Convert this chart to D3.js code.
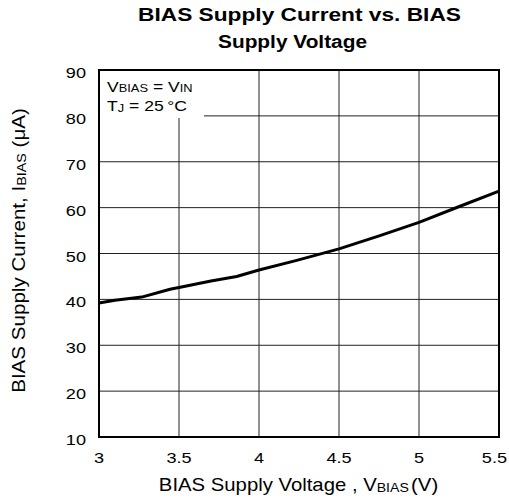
<!DOCTYPE html>
<html>
<head>
<meta charset="utf-8">
<script src="https://cdn.jsdelivr.net/npm/d3@7"></script>
<style>
  body { margin: 0; background: #fff; }
  text { font-family: "Liberation Sans", Arial, sans-serif; fill: #000; }
</style>
</head>
<body>
<div id="chart"></div>
<script>
// curve
let voltage = [3.0, 3.1, 3.267, 3.444, 3.5, 3.7, 3.86, 4.0, 4.236, 4.5, 4.756, 5.0, 5.256, 5.5]
let current = [39.2, 39.8, 40.5, 42.2, 42.6, 44.0, 45.0, 46.4, 48.5, 51.0, 53.9, 56.8, 60.3, 63.6]
let xTicks = [3, 3.5, 4, 4.5, 5, 5.5]
let yTicks = [10, 20, 30, 40, 50, 60, 70, 80, 90]

var W = 509, H = 500
var margin = {left: 99, right: 10, top: 70, bottom: 63}
var sx = 1.17 // the reference type is a bit stretched sideways

var svg = d3.select("#chart").append("svg")
  .attr("width", W)
  .attr("height", H)

var x = d3.scaleLinear().domain([3, 5.5]).range([margin.left, W - margin.right])
var y = d3.scaleLinear().domain([10, 90]).range([H - margin.bottom, margin.top])

// puts a text at (px,py) and stretches it sideways
function placed(px, py, anchor, size, s) {
  return svg.append("g")
    .attr("transform", "translate(" + px + "," + py + ") scale(" + (s || sx) + ",1)")
    .append("text")
    .attr("text-anchor", anchor)
    .style("font-size", size + "px")
}
// stretch a text so it spans a given width
function fit(t, width) {
  var w = t.node().getComputedTextLength()
  var g = d3.select(t.node().parentNode)
  g.attr("transform", g.attr("transform").replace(/scale\([^)]*\)/, "scale(" + (width / w) + ",1)"))
}

// grid
svg.append("g").selectAll("line")
  .data(xTicks)
  .enter().append("line")
  .attr("x1", d => x(d)).attr("x2", d => x(d))
  .attr("y1", y(90)).attr("y2", y(10))
  .attr("stroke", "#222").attr("stroke-width", 1)
svg.append("g").selectAll("line")
  .data(yTicks)
  .enter().append("line")
  .attr("x1", x(3)).attr("x2", x(5.5))
  .attr("y1", d => y(d)).attr("y2", d => y(d))
  .attr("stroke", "#222").attr("stroke-width", 1)

// the curve
var line = d3.line().x((d, i) => x(voltage[i])).y(d => y(d))
svg.append("path")
  .datum(current)
  .attr("d", line)
  .attr("fill", "none")
  .attr("stroke", "#000")
  .attr("stroke-width", 3)
  .attr("stroke-linejoin", "round")

// annotation box covers the grid
svg.append("rect")
  .attr("x", x(3) + 1).attr("y", y(90) + 1)
  .attr("width", 104).attr("height", 47)
  .attr("fill", "#fff")

var n1 = placed(x(3) + 8, y(90) + 22, "start", 15)
n1.append("tspan").text("V")
n1.append("tspan").text("BIAS").style("font-size", "11px")
n1.append("tspan").text(" = V")
n1.append("tspan").text("IN").style("font-size", "11px")
var n2 = placed(x(3) + 8, y(90) + 41, "start", 15)
n2.append("tspan").text("T")
n2.append("tspan").text("J").style("font-size", "11px").attr("dy", 1)
n2.append("tspan").text(" = 25\u2009\u00b0C").attr("dy", -1)

// frame
svg.append("rect")
  .attr("x", x(3)).attr("y", y(90))
  .attr("width", x(5.5) - x(3)).attr("height", y(10) - y(90))
  .attr("fill", "none").attr("stroke", "#000").attr("stroke-width", 2)

// tick labels (last one pulled in so it stays on the page)
xTicks.forEach(d => {
  var t = placed(x(d), y(10) + 26, "middle", 15.5).text(d)
  var half = t.node().getComputedTextLength() * sx / 2
  if (x(d) + half > W - 2) {
    d3.select(t.node().parentNode)
      .attr("transform", "translate(" + (W - 2 - half) + "," + (y(10) + 26) + ") scale(" + sx + ",1)")
  }
})
yTicks.forEach(d => placed(x(3) - 13, y(d) + 8, "end", 15.5).text(d))

// axis titles
var xl = placed((x(3) + x(5.5)) / 2 - 0.5, 491, "middle", 18)
xl.append("tspan").text("BIAS Supply Voltage , V")
xl.append("tspan").text("BIAS").style("font-size", "12.5px").attr("dy", 1)
xl.append("tspan").text("(V)").attr("dy", -1).attr("dx", 2)
fit(xl, 277)

var yl = svg.append("g")
  .attr("transform", "translate(25,250.5) rotate(-90) scale(1,1)")
  .append("text")
  .attr("text-anchor", "middle")
  .style("font-size", "18px")
yl.append("tspan").text("BIAS Supply Current, I")
yl.append("tspan").text("BIAS").style("font-size", "12.5px").attr("dy", 1)
yl.append("tspan").text(" (\u03bcA)").attr("dy", -1)
fit(yl, 285)

// title
var t1 = placed(299.5, 21, "middle", 18.5)
t1.style("font-weight", "bold").text("BIAS Supply Current vs. BIAS")
fit(t1, 323)
var t2 = placed(292.5, 48, "middle", 18.5)
t2.style("font-weight", "bold").text("Supply Voltage")
fit(t2, 149)
</script>
</body>
</html>
